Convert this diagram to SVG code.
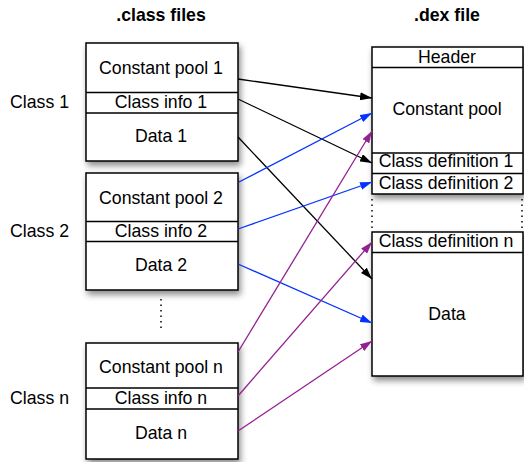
<svg xmlns="http://www.w3.org/2000/svg" width="524" height="462" viewBox="0 0 524 462">
<style>
text{font-family:"Liberation Sans",Arial,sans-serif;font-size:17.7px;fill:#000}
.t{text-anchor:middle}
.b{font-weight:bold}
.box{fill:#fff;stroke:#000;stroke-width:1.5}
.sep{stroke:#000;stroke-width:1.5;fill:none}
.dot{stroke:#000;stroke-width:1.5;stroke-dasharray:1.5 4;fill:none}
.k{stroke:#000;stroke-width:1.3;fill:none}
.bl{stroke:#0433ff;stroke-width:1.3;fill:none}
.pu{stroke:#942192;stroke-width:1.3;fill:none}
</style>
<defs>
<filter id="sh" x="-10%" y="-10%" width="130%" height="130%">
<feDropShadow dx="2" dy="4" stdDeviation="3" flood-color="#000" flood-opacity="0.45"/>
</filter>
<marker id="ak" viewBox="0 0 12 8" refX="12" refY="4" markerWidth="12" markerHeight="8" markerUnits="userSpaceOnUse" orient="auto"><path d="M0,0L12,4L0,8z" fill="#000"/></marker>
<marker id="ab" viewBox="0 0 12 8" refX="12" refY="4" markerWidth="12" markerHeight="8" markerUnits="userSpaceOnUse" orient="auto"><path d="M0,0L12,4L0,8z" fill="#0433ff"/></marker>
<marker id="ap" viewBox="0 0 12 8" refX="12" refY="4" markerWidth="12" markerHeight="8" markerUnits="userSpaceOnUse" orient="auto"><path d="M0,0L12,4L0,8z" fill="#942192"/></marker>
</defs>

<text class="t b" x="161" y="21">.class files</text>
<text class="t b" x="447" y="21">.dex file</text>

<g id="class1">
<rect class="box" x="86" y="43" width="152" height="118" filter="url(#sh)"/>
<path class="sep" d="M86,92.5H238M86,113H238"/>
<text class="t" x="161" y="73.5">Constant pool 1</text>
<text class="t" x="161" y="108">Class info 1</text>
<text class="t" x="161" y="142">Data 1</text>
<text x="10" y="108">Class 1</text>
</g>

<g id="class2">
<rect class="box" x="86" y="173" width="152" height="117" filter="url(#sh)"/>
<path class="sep" d="M86,221.5H238M86,241.5H238"/>
<text class="t" x="161" y="203.5">Constant pool 2</text>
<text class="t" x="161" y="236.5">Class info 2</text>
<text class="t" x="161" y="271">Data 2</text>
<text x="10" y="236.5">Class 2</text>
</g>

<path class="dot" d="M161,299V331"/>

<g id="classn">
<rect class="box" x="86" y="343" width="152" height="116" filter="url(#sh)"/>
<path class="sep" d="M86,388H238M86,409H238"/>
<text class="t" x="161" y="373">Constant pool n</text>
<text class="t" x="161" y="404">Class info n</text>
<text class="t" x="161" y="438.5">Data n</text>
<text x="10" y="404">Class n</text>
</g>

<g id="dex-top">
<rect class="box" x="372" y="47" width="151" height="147" filter="url(#sh)"/>
<path class="sep" d="M372,67.5H523M372,153H523M372,173.5H523"/>
<text class="t" x="447" y="62.5">Header</text>
<text class="t" x="447" y="115">Constant pool</text>
<text class="t" x="446" y="167">Class definition 1</text>
<text class="t" x="446" y="188.5">Class definition 2</text>
</g>

<path class="dot" d="M372,199V228M522,199V228"/>

<g id="dex-bottom">
<rect class="box" x="372" y="232" width="151" height="144" filter="url(#sh)"/>
<path class="sep" d="M372,252.5H523"/>
<text class="t" x="446" y="247">Class definition n</text>
<text class="t" x="447" y="320">Data</text>
</g>

<g id="connectors">
<path class="k" d="M238,79L372,98" marker-end="url(#ak)"/>
<path class="k" d="M238,99L372,163" marker-end="url(#ak)"/>
<path class="k" d="M238,137L372,279" marker-end="url(#ak)"/>
<path class="bl" d="M239,182L372,113" marker-end="url(#ab)"/>
<path class="bl" d="M238,229L372,182" marker-end="url(#ab)"/>
<path class="bl" d="M238,264L372,323" marker-end="url(#ab)"/>
<path class="pu" d="M238,352L372,131" marker-end="url(#ap)"/>
<path class="pu" d="M238,396L372,242" marker-end="url(#ap)"/>
<path class="pu" d="M238,431L372,341" marker-end="url(#ap)"/>
</g>
</svg>
